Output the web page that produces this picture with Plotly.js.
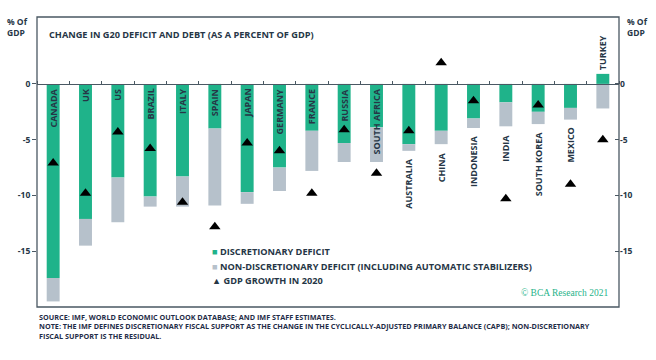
<!DOCTYPE html>
<html>
<head>
<meta charset="utf-8">
<script src="https://cdn.plot.ly/plotly-3.0.1.min.js"></script>
<style>
  html, body { margin: 0; padding: 0; background: #ffffff; }
  #chart { width: 656px; height: 360px; }
</style>
</head>
<body>
<div id="chart"></div>
<script>
// ---- data ----
const countries = ['CANADA','UK','US','BRAZIL','ITALY','SPAIN','JAPAN','GERMANY','FRANCE','RUSSIA',
                   'SOUTH AFRICA','AUSTRALIA','CHINA','INDONESIA','INDIA','SOUTH KOREA','MEXICO','TURKEY'];
const discretionary    = [-17.4, -12.1, -8.4, -10.1, -8.3, -4.0, -9.7, -7.5, -4.2, -5.3,
                          -3.9, -5.4, -4.2, -3.1, -1.65, -2.5, -2.15, 0.9];
const nonDiscretionary = [-2.1, -2.4, -4.0, -0.9, -2.7, -6.9, -1.05, -2.1, -3.6, -1.7,
                          -3.1, -0.6, -1.2, -0.85, -2.15, -1.1, -1.05, -2.2];
const gdpGrowth2020    = [-7.1, -9.8, -4.3, -5.8, -10.6, -12.8, -5.3, -6.0, -9.8, -4.1,
                          -8.0, -4.2, 1.9, -1.5, -10.3, -1.9, -9.0, -5.0];
const yTicks = [0, -5, -10, -15];

// ---- style ----
const GREEN = '#1fb38a', GREY = '#b6c1cb', DARK = '#263646', AXIS = '#4a5863';
const FONT = 'Open Sans, Lato, sans-serif';
const yRange = [-20, 6];
// label placement style: 'in' = inside bar top, 'below' = under bar, 'above' = over bar
const labelPlacement = ['in','in','in','in','in','in','in','in','in','in',
                        'in','below','below','below','below','below','below','above'];

const traces = [
  { type: 'bar', x: countries, y: discretionary, name: 'DISCRETIONARY DEFICIT',
    marker: { color: GREEN, line: { width: 0 } }, showlegend: false, hoverinfo: 'x+y' },
  { type: 'bar', x: countries, y: nonDiscretionary, name: 'NON-DISCRETIONARY DEFICIT',
    marker: { color: GREY, line: { width: 0 } }, showlegend: false, hoverinfo: 'x+y' },
  { type: 'scatter', mode: 'markers', x: countries, y: gdpGrowth2020, yaxis: 'y2',
    name: 'GDP GROWTH IN 2020', marker: { symbol: 'triangle-up', size: 10, color: '#000000' },
    showlegend: false, hoverinfo: 'x+y' }
];

const annotations = [];
countries.forEach((c, i) => {
  const d = discretionary[i], n = nonDiscretionary[i];
  const neg = Math.min(d, 0) + Math.min(n, 0);
  const pos = Math.max(d, 0) + Math.max(n, 0);
  const p = labelPlacement[i];
  let ann = { x: c, xref: 'x', yref: 'y', text: c, showarrow: false, textangle: -90,
              font: { family: FONT, size: 9, color: DARK, weight: 700 }, xanchor: 'center', borderpad: 0 };
  if (p === 'in') { ann.y = 0; ann.yanchor = 'top'; ann.yshift = -4; }
  else if (p === 'below') { ann.y = neg; ann.yanchor = 'top'; ann.yshift = -7; }
  else { ann.y = pos; ann.yanchor = 'bottom'; ann.yshift = 3; }
  annotations.push(ann);
});

annotations.push(
  { xref: 'paper', yref: 'paper', x: 0.017, y: 0.941, xanchor: 'left', yanchor: 'middle', showarrow: false,
    text: 'CHANGE IN G20 DEFICIT AND DEBT (AS A PERCENT OF GDP)',
    font: { family: FONT, size: 9.2, color: DARK, weight: 700 } },
  { xref: 'paper', yref: 'paper', x: -0.012, y: 0.966, xanchor: 'right', yanchor: 'middle', align: 'left',
    showarrow: false, text: '% Of<br>GDP', font: { family: FONT, size: 8.5, color: DARK, weight: 700 } },
  { xref: 'paper', yref: 'paper', x: 1.011, y: 0.966, xanchor: 'left', yanchor: 'middle', align: 'left',
    showarrow: false, text: '% Of<br>GDP', font: { family: FONT, size: 8.5, color: DARK, weight: 700 } },
  { xref: 'paper', yref: 'paper', x: 0.297, y: 0.1907, xanchor: 'left', yanchor: 'middle', showarrow: false,
    text: '<span style="color:' + GREEN + '">■</span> DISCRETIONARY DEFICIT',
    font: { family: FONT, size: 9.2, color: DARK, weight: 700 } },
  { xref: 'paper', yref: 'paper', x: 0.297, y: 0.139, xanchor: 'left', yanchor: 'middle', showarrow: false,
    text: '<span style="color:' + GREY + '">■</span> NON-DISCRETIONARY DEFICIT (INCLUDING AUTOMATIC STABILIZERS)',
    font: { family: FONT, size: 9.2, color: DARK, weight: 700 } },
  { xref: 'paper', yref: 'paper', x: 0.297, y: 0.0897, xanchor: 'left', yanchor: 'middle', showarrow: false,
    text: '▲ GDP GROWTH IN 2020',
    font: { family: FONT, size: 9.2, color: DARK, weight: 700 } },
  { xref: 'paper', yref: 'paper', x: 0.984, y: 0.048, xanchor: 'right', yanchor: 'middle', showarrow: false,
    text: '© BCA Research 2021',
    font: { family: 'Liberation Serif, DejaVu Serif, serif', size: 9.5, color: GREEN } },
  { xref: 'paper', yref: 'paper', x: 0, y: -0.012, xanchor: 'left', yanchor: 'top', align: 'left', showarrow: false,
    text: 'SOURCE: IMF, WORLD ECONOMIC OUTLOOK DATABASE; AND IMF STAFF ESTIMATES.<br>' +
          'NOTE: THE IMF DEFINES DISCRETIONARY FISCAL SUPPORT AS THE CHANGE IN THE CYCLICALLY-ADJUSTED PRIMARY BALANCE (CAPB); NON-DISCRETIONARY<br>' +
          'FISCAL SUPPORT IS THE RESIDUAL.',
    font: { family: FONT, size: 7.25, color: '#1f2d48', weight: 700 } }
);

const yAxisBase = {
  range: yRange, tickvals: yTicks, ticktext: yTicks.map(String), ticks: 'outside', ticklen: 4,
  tickcolor: AXIS, tickwidth: 1, showgrid: false, zeroline: false, showline: false, fixedrange: true,
  tickfont: { family: FONT, size: 8.5, color: DARK, weight: 700 }
};

const layout = {
  width: 656, height: 360,
  margin: { l: 37, r: 37, t: 17, b: 53 },
  paper_bgcolor: '#ffffff', plot_bgcolor: '#ffffff',
  barmode: 'relative', bargap: 0.6,
  showlegend: false,
  xaxis: {
    type: 'category', range: [-0.5, countries.length - 0.5], anchor: 'free',
    position: (0 - yRange[0]) / (yRange[1] - yRange[0]), side: 'top',
    showticklabels: false, ticks: 'outside', ticklen: 3, tickcolor: AXIS, tickson: 'boundaries',
    showline: true, linecolor: AXIS, linewidth: 1, showgrid: false, zeroline: false, fixedrange: true
  },
  yaxis: Object.assign({}, yAxisBase, { side: 'left' }),
  yaxis2: Object.assign({}, yAxisBase, { side: 'right', overlaying: 'y', ticks: 'inside' }),
  shapes: [
    { type: 'rect', xref: 'paper', yref: 'paper', x0: 0, x1: 1, y0: 0, y1: 1,
      line: { color: AXIS, width: 1.3 }, fillcolor: 'rgba(0,0,0,0)', layer: 'above' }
  ],
  annotations: annotations
};

Plotly.newPlot('chart', traces, layout, { displayModeBar: false, staticPlot: true });
</script>
</body>
</html>
